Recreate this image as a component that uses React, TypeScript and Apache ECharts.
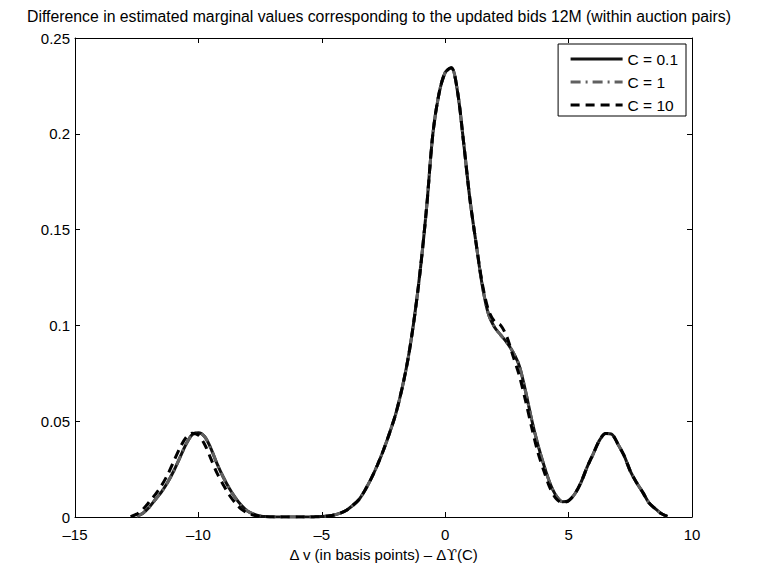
import React, { useEffect, useRef } from "react";
import * as echarts from "echarts";

const titleText =
  "Difference in estimated marginal values corresponding to the updated bids 12M (within auction pairs)";
const xAxisNameParts = ["\u0394 v (in basis points) \u2013 \u0394", "\u03D2", "(C)"];
const seriesNames = ["C = 0.1", "C = 1", "C = 10"];

const xs = [
  -12.75, -12.5, -12.25, -12, -11.75, -11.5, -11.25, -11, -10.75, -10.5, -10.25, -10,
  -9.75, -9.5, -9.25, -9, -8.75, -8.5, -8.25, -8, -7.75, -7.5, -7.25, -7, -6.75, -6.5,
  -6.25, -6, -5.75, -5.5, -5.25, -5, -4.75, -4.5, -4.25, -4, -3.75, -3.5, -3.25, -3,
  -2.75, -2.5, -2.25, -2, -1.75, -1.5, -1.25, -1, -0.75, -0.5, -0.25, 0, 0.25, 0.5,
  0.75, 1, 1.25, 1.5, 1.75, 2, 2.25, 2.5, 2.75, 3, 3.25, 3.5, 3.75, 4, 4.25, 4.5, 4.75,
  5, 5.25, 5.5, 5.75, 6, 6.25, 6.5, 6.75, 7, 7.25, 7.5, 7.75, 8, 8.25, 8.5, 8.75, 9,
];

const c01 = [
  null, 0.0005, 0.002, 0.005, 0.009, 0.013, 0.018, 0.024, 0.031, 0.038, 0.043, 0.044,
  0.042, 0.036, 0.028, 0.021, 0.015, 0.01, 0.006, 0.003, 0.0015, 0.0006, 0.0002, 0.0001, 0, 0,
  0, 0, 0, 0, 0.0001, 0.0002, 0.0005, 0.001, 0.002, 0.0035, 0.006, 0.009, 0.014, 0.02,
  0.027, 0.035, 0.044, 0.054, 0.067, 0.083, 0.104, 0.13, 0.162, 0.2, 0.221, 0.232, 0.2345, 0.222,
  0.195, 0.166, 0.143, 0.121, 0.106, 0.099, 0.095, 0.091, 0.086, 0.079, 0.066, 0.051, 0.038, 0.027, 0.0175, 0.011, 0.008,
  0.0085, 0.012, 0.018, 0.026, 0.033, 0.04, 0.0436, 0.0432, 0.038, 0.032, 0.024, 0.018, 0.013, 0.0075, 0.0045, 0.0018, 0.0003,
];

const c1 = [
  null, 0.0005, 0.002, 0.005, 0.009, 0.013, 0.018, 0.024, 0.031, 0.038, 0.043, 0.044,
  0.042, 0.036, 0.028, 0.021, 0.015, 0.01, 0.006, 0.003, 0.0015, 0.0006, 0.0002, 0.0001, 0, 0,
  0, 0, 0, 0, 0.0001, 0.0002, 0.0005, 0.001, 0.002, 0.0035, 0.006, 0.009, 0.014, 0.02,
  0.027, 0.035, 0.044, 0.054, 0.067, 0.083, 0.104, 0.13, 0.162, 0.2, 0.221, 0.232, 0.2345, 0.222,
  0.195, 0.166, 0.143, 0.121, 0.106, 0.099, 0.095, 0.091, 0.086, 0.079, 0.066, 0.051, 0.038, 0.027, 0.0175, 0.011, 0.008,
  0.0085, 0.012, 0.018, 0.026, 0.033, 0.04, 0.0436, 0.0432, 0.038, 0.032, 0.024, 0.018, 0.013, 0.0075, 0.0045, 0.0018, 0.0003,
];

const c10 = [
  0.0002, 0.0015, 0.004, 0.0077, 0.0117, 0.0163, 0.022, 0.029, 0.036, 0.0415, 0.0437, 0.0427,
  0.038, 0.0306, 0.023, 0.017, 0.0115, 0.0073, 0.004, 0.002, 0.0009, 0.0003, 0.0001, 0, 0, 0,
  0, 0, 0, 0, 0.0001, 0.0002, 0.0005, 0.001, 0.002, 0.0035, 0.006, 0.009, 0.014, 0.02,
  0.027, 0.035, 0.044, 0.054, 0.067, 0.083, 0.104, 0.13, 0.162, 0.2, 0.221, 0.232, 0.2345, 0.222,
  0.195, 0.166, 0.143, 0.122, 0.108, 0.102, 0.1, 0.094, 0.084, 0.074, 0.061, 0.047, 0.034, 0.024, 0.015, 0.0095, 0.0075,
  0.0085, 0.012, 0.018, 0.026, 0.033, 0.04, 0.0436, 0.0432, 0.038, 0.032, 0.024, 0.018, 0.013, 0.0075, 0.0045, 0.0018, 0.0003,
];

const FONT = "Liberation Sans, Arial, sans-serif";

function pairs(ys: (number | null)[]) {
  return xs.map((x, i) => [x, ys[i]]);
}

export default function App() {
  const ref = useRef<HTMLDivElement>(null);
  useEffect(() => {
    if (!ref.current) return;
    const chart = echarts.init(ref.current, undefined, { renderer: "svg" });
    const tickFmt = (v: number) => String(v).replace("-", "\u2013");
    const baseX = {
      type: "value" as const,
      min: -15,
      max: 10,
      interval: 5,
      splitLine: { show: false },
      axisLine: { show: true, onZero: false, lineStyle: { color: "#000", width: 1 } },
      axisTick: { show: true, inside: true, length: 5, lineStyle: { color: "#000" } },
    };
    const baseY = {
      type: "value" as const,
      min: 0,
      max: 0.25,
      interval: 0.05,
      splitLine: { show: false },
      axisLine: { show: true, onZero: false, lineStyle: { color: "#000", width: 1 } },
      axisTick: { show: true, inside: true, length: 5, lineStyle: { color: "#000" } },
    };
    chart.setOption({
      animation: false,
      backgroundColor: "#fff",
      title: {
        text: titleText,
        left: "center",
        top: 3,
        textStyle: { fontFamily: FONT, fontSize: 15.8, fontWeight: "normal", color: "#000" },
      },
      grid: { left: 75, right: 66, top: 38, bottom: 43, containLabel: false },
      legend: {
        orient: "vertical",
        right: 72,
        top: 44,
        backgroundColor: "#fff",
        borderColor: "#000",
        borderWidth: 1,
        borderRadius: 0,
        padding: [7, 8, 3, 11],
        itemWidth: 52,
        itemHeight: 14,
        itemGap: 7,
        itemStyle: { color: "rgba(0,0,0,0)", borderWidth: 0, opacity: 0 },
        lineStyle: { width: 3 },
        textStyle: { fontFamily: FONT, fontSize: 15.5, color: "#000" },
        data: seriesNames,
      },
      xAxis: [
        {
          ...baseX,
          position: "bottom",
          name: `{a|${xAxisNameParts[0]}}{b|${xAxisNameParts[1]}}{a|${xAxisNameParts[2]}}`,
          nameLocation: "middle",
          nameGap: 30,
          nameTextStyle: {
            fontFamily: FONT,
            fontSize: 15,
            color: "#000",
            rich: {
              a: { fontFamily: FONT, fontSize: 15, color: "#000" },
              b: { fontFamily: "DejaVu Serif, serif", fontSize: 15, color: "#000" },
            },
          },
          axisLabel: { fontFamily: FONT, fontSize: 15, color: "#000", margin: 10, formatter: tickFmt },
        },
        { ...baseX, position: "top", axisLabel: { show: false } },
      ],
      yAxis: [
        {
          ...baseY,
          position: "left",
          axisLabel: { fontFamily: FONT, fontSize: 15, color: "#000", margin: 5 },
        },
        { ...baseY, position: "right", axisLabel: { show: false } },
      ],
      series: [
        {
          name: seriesNames[0],
          type: "line",
          data: pairs(c01),
          smooth: 0.3,
          symbol: "none",
          lineStyle: { color: "#111", width: 3, type: "solid" },
          itemStyle: { color: "#111" },
          z: 2,
        },
        {
          name: seriesNames[1],
          type: "line",
          data: pairs(c1),
          smooth: 0.3,
          symbol: "none",
          lineStyle: { color: "#606060", width: 3, type: [10, 5, 2, 5] },
          itemStyle: { color: "#606060" },
          z: 3,
        },
        {
          name: seriesNames[2],
          type: "line",
          data: pairs(c10),
          smooth: 0.3,
          symbol: "none",
          lineStyle: { color: "#000", width: 3, type: [9, 6] },
          itemStyle: { color: "#000" },
          z: 4,
        },
      ],
    });
    return () => chart.dispose();
  }, []);
  return (
    <div
      ref={ref}
      style={{ position: "fixed", left: 0, top: 0, width: 758, height: 567, background: "#fff" }}
    />
  );
}
